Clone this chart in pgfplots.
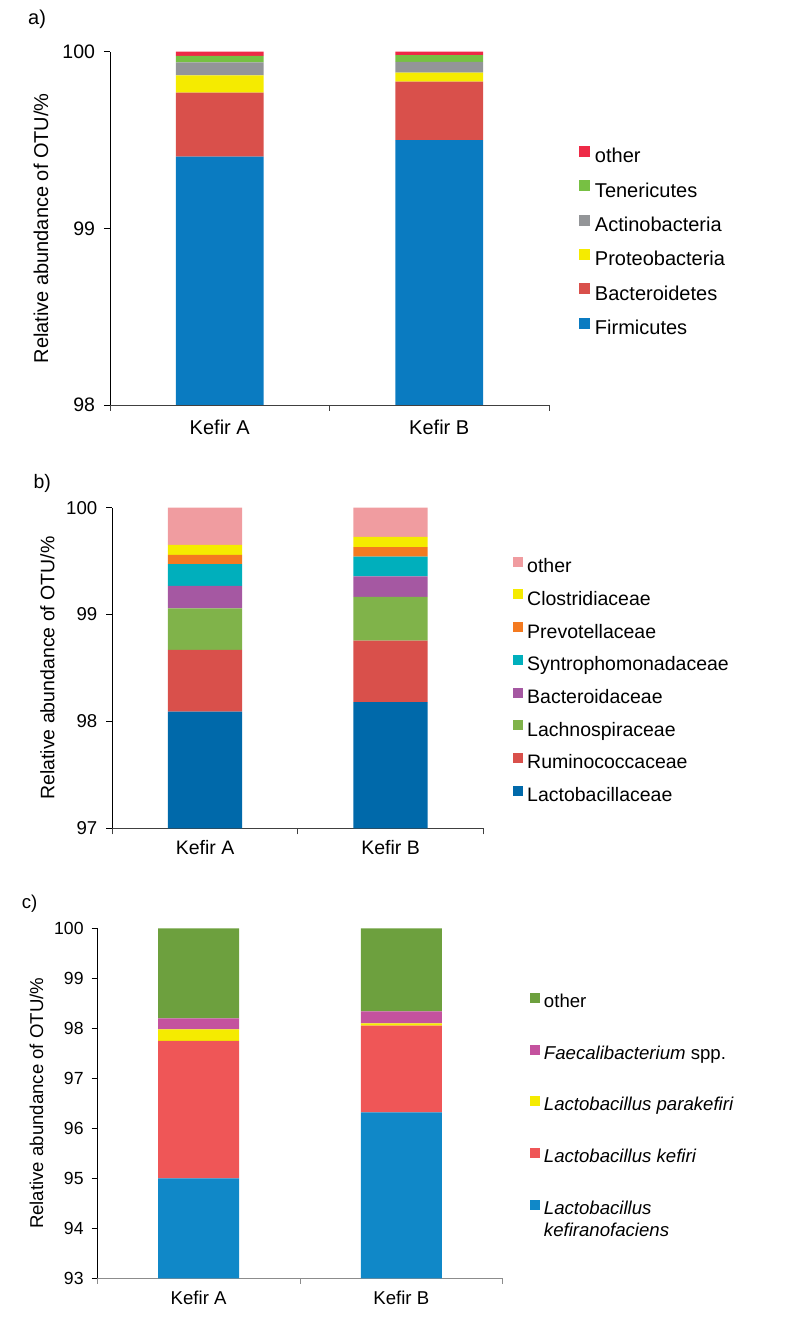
\documentclass[border=0pt]{standalone}
\usepackage{fontspec}
\setmainfont{Liberation Sans}
\usepackage{pgfplots}
\pgfplotsset{compat=1.18}
% panel a colours
\definecolor{aFirm}{HTML}{0A7BC1}
\definecolor{aBact}{HTML}{D9504B}
\definecolor{aProt}{HTML}{F5EB00}
\definecolor{aActi}{HTML}{939598}
\definecolor{aTene}{HTML}{77C043}
\definecolor{aOther}{HTML}{EE2A47}
% panel b colours
\definecolor{bLact}{HTML}{0069AA}
\definecolor{bRumi}{HTML}{D9504B}
\definecolor{bLach}{HTML}{80B34A}
\definecolor{bBact}{HTML}{A558A2}
\definecolor{bSynt}{HTML}{00AFBC}
\definecolor{bPrev}{HTML}{F47A20}
\definecolor{bClos}{HTML}{F5EB00}
\definecolor{bOther}{HTML}{F09CA0}
% panel c colours
\definecolor{cKfac}{HTML}{1088C8}
\definecolor{cKefi}{HTML}{EF5657}
\definecolor{cPara}{HTML}{F5EB00}
\definecolor{cFaec}{HTML}{C4529E}
\definecolor{cOther}{HTML}{6DA03E}

\pgfplotsset{
  kefir/.style={
    scale only axis, anchor=south west,
    ybar stacked, bar width=0.4,
    xmin=0, xmax=2, enlarge x limits=false,
    axis x line*=bottom, axis y line*=left,
    axis line style={-},
    y axis line style={black, line width=0.8pt},
    xtick={0,1,2}, xticklabels={},
    extra x ticks={0.5,1.5},
    extra x tick labels={Kefir A,Kefir B},
    tick align=outside,
    ytick style={black, line width=0.8pt},
    /pgf/number format/assume math mode=true,
    reverse legend,
    every axis plot/.append style={draw=none},
  }
}

\begin{document}
\begin{tikzpicture}
\path[use as bounding box] (0,0) rectangle (790pt,1326pt);

% ---------------- panel a ----------------
\node[anchor=base west, inner sep=0pt, font=\fontsize{20}{24}\selectfont] at (28pt,1301pt) {a)};
\begin{axis}[kefir,
  at={(110pt,921pt)}, width=439pt, height=353.3pt,
  ymin=98, ymax=100, ytick={98,99,100},
  x axis line style={black!75, line width=0.8pt},
  xtick style={black!75, line width=0.8pt},
  major tick length=6pt,
  yticklabel style={font=\fontsize{19.5}{23}\selectfont, xshift=-5.5pt},
  extra x tick style={major tick length=0pt, xticklabel style={font=\fontsize{20}{24}\selectfont, yshift=-11pt}},
  every axis y label/.style={at={(axis description cs:-0.157,0.5)}, rotate=90, anchor=center, font=\fontsize{20}{24}\selectfont},
  ylabel={Relative abundance of OTU/\%},
  legend image code/.code={\fill[#1] (0pt,1pt) rectangle (11pt,12pt);},
  legend style={draw=none, fill=none, inner sep=0pt, outer sep=0pt,
    at={(1.0683,0.7337)}, anchor=north west, legend cell align=left,
    font=\fontsize{20}{24}\selectfont,
    nodes={text height=15pt, text depth=5pt, inner sep=0pt},
    row sep=12.4pt, column sep=5pt},
]
\addplot[fill=aFirm] coordinates {(0.5,99.406) (1.5,99.500)};
\addplot[fill=aBact] coordinates {(0.5,0.362) (1.5,0.330)};
\addplot[fill=aProt] coordinates {(0.5,0.098) (1.5,0.051)};
\addplot[fill=aActi] coordinates {(0.5,0.074) (1.5,0.062)};
\addplot[fill=aTene] coordinates {(0.5,0.036) (1.5,0.038)};
\addplot[fill=aOther] coordinates {(0.5,0.024) (1.5,0.019)};
\legend{Firmicutes,Bacteroidetes,Proteobacteria,Actinobacteria,Tenericutes,other}
\end{axis}

% ---------------- panel b ----------------
\node[anchor=base west, inner sep=0pt, font=\fontsize{19.5}{23}\selectfont] at (33.3pt,837.7pt) {b)};
\begin{axis}[kefir,
  at={(112.3pt,497.7pt)}, width=371pt, height=320.6pt,
  ymin=97, ymax=100, ytick={97,98,99,100},
  x axis line style={black!75, line width=0.8pt},
  xtick style={black!75, line width=0.8pt},
  major tick length=6pt,
  yticklabel style={font=\fontsize{18.6}{22}\selectfont, xshift=-5.5pt},
  extra x tick style={major tick length=0pt, xticklabel style={font=\fontsize{19.5}{23}\selectfont, yshift=-8.5pt}},
  every axis y label/.style={at={(axis description cs:-0.175,0.5)}, rotate=90, anchor=center, font=\fontsize{19.5}{23}\selectfont},
  ylabel={Relative abundance of OTU/\%},
  legend image code/.code={\fill[#1] (0pt,1pt) rectangle (10pt,11pt);},
  legend style={draw=none, fill=none, inner sep=0pt, outer sep=0pt,
    at={(1.0792,0.847)}, anchor=north west, legend cell align=left,
    font=\fontsize{19.5}{23}\selectfont,
    nodes={text height=15pt, text depth=5pt, inner sep=0pt},
    row sep=11.7pt, column sep=4.5pt},
]
\addplot[fill=bLact] coordinates {(0.5,98.092) (1.5,98.180)};
\addplot[fill=bRumi] coordinates {(0.5,0.577) (1.5,0.576)};
\addplot[fill=bLach] coordinates {(0.5,0.390) (1.5,0.409)};
\addplot[fill=bBact] coordinates {(0.5,0.209) (1.5,0.193)};
\addplot[fill=bSynt] coordinates {(0.5,0.203) (1.5,0.184)};
\addplot[fill=bPrev] coordinates {(0.5,0.087) (1.5,0.088)};
\addplot[fill=bClos] coordinates {(0.5,0.093) (1.5,0.096)};
\addplot[fill=bOther] coordinates {(0.5,0.349) (1.5,0.274)};
\legend{Lactobacillaceae,Ruminococcaceae,Lachnospiraceae,Bacteroidaceae,Syntrophomonadaceae,Prevotellaceae,Clostridiaceae,other}
\end{axis}

% ---------------- panel c ----------------
\node[anchor=base west, inner sep=0pt, font=\fontsize{18.6}{22}\selectfont] at (21.7pt,417.7pt) {c)};
\begin{axis}[kefir,
  at={(97.3pt,47.7pt)}, width=405.4pt, height=350pt,
  ymin=93, ymax=100, ytick={93,94,...,100},
  x axis line style={black!45, line width=0.8pt},
  xtick style={black!45, line width=0.8pt},
  major tick length=5.6pt,
  yticklabel style={font=\fontsize{17.6}{21}\selectfont, xshift=-4.6pt},
  extra x tick style={major tick length=0pt, xticklabel style={font=\fontsize{18.6}{22}\selectfont, yshift=-8.8pt}},
  every axis y label/.style={at={(axis description cs:-0.150,0.5)}, rotate=90, anchor=center, font=\fontsize{18.6}{22}\selectfont},
  ylabel={Relative abundance of OTU/\%},
  legend image code/.code={\fill[#1] (0pt,0pt) rectangle (10pt,10pt);},
  legend style={draw=none, fill=none, inner sep=0pt, outer sep=0pt,
    at={(1.0673,0.8143)}, anchor=north west, legend cell align=left,
    font=\fontsize{18.6}{22}\selectfont,
    nodes={text height=14pt, text depth=5pt, inner sep=0pt},
    row sep=32.1pt, column sep=4pt},
]
\addplot[fill=cKfac] coordinates {(0.5,95.000) (1.5,96.320)};
\addplot[fill=cKefi] coordinates {(0.5,2.747) (1.5,1.732)};
\addplot[fill=cPara] coordinates {(0.5,0.233) (1.5,0.048)};
\addplot[fill=cFaec] coordinates {(0.5,0.220) (1.5,0.240)};
\addplot[fill=cOther] coordinates {(0.5,1.800) (1.5,1.660)};
\legend{{\begin{tabular}[t]{@{}l@{}}\textit{Lactobacillus}\\\textit{kefiranofaciens}\end{tabular}},\textit{Lactobacillus kefiri},\textit{Lactobacillus parakefiri},\textit{Faecalibacterium} spp.,other}
\end{axis}
\end{tikzpicture}
\end{document}
